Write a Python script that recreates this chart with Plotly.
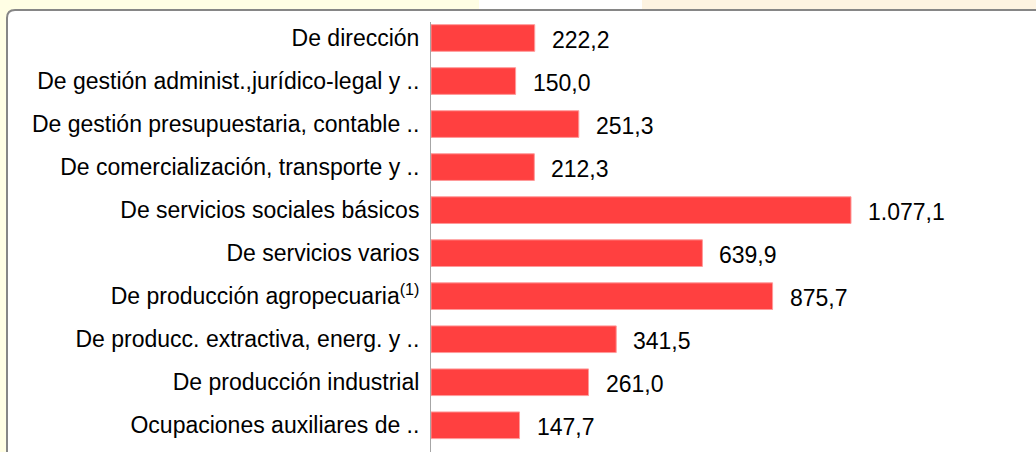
import plotly.graph_objects as go

categories = [
    "De dirección",
    "De gestión administ.,jurídico-legal y ..",
    "De gestión presupuestaria, contable ..",
    "De comercialización, transporte y ..",
    "De servicios sociales básicos",
    "De servicios varios",
    "De producción agropecuaria<sup>(1)</sup>",
    "De producc. extractiva, energ. y ..",
    "De producción industrial",
    "Ocupaciones auxiliares de ..",
]
# bar lengths as drawn in the picture (axis units)
bar_values = [266, 217, 379, 265, 1077.1, 696, 876, 475, 404, 227]
# printed value labels
label_values = [222.2, 150.0, 251.3, 212.3, 1077.1, 639.9, 875.7, 341.5, 261.0, 147.7]


def es_fmt(v):
    s = f"{v:,.1f}"
    return s.replace(",", "X").replace(".", ",").replace("X", ".")


W, H = 1036, 452
ML, MR, MT, MB = 431, 5, 22, 0
PW, PH = W - ML - MR, H - MT - MB


def px(x):
    return (x - ML) / PW


def py(y):
    return 1 - (y - MT) / PH


FONT = "Liberation Sans, Arial, sans-serif"
FS = 23

fig = go.Figure()
fig.add_trace(go.Bar(
    x=bar_values,
    y=categories,
    orientation="h",
    marker=dict(color="#FF4040", line=dict(color="#FF9A9A", width=1)),
    hoverinfo="skip",
))

annotations = []
for c, b, v in zip(categories, bar_values, label_values):
    annotations.append(dict(
        x=b, y=c, xref="x", yref="y", text=es_fmt(v), showarrow=False,
        xanchor="left", yanchor="middle", xshift=15, yshift=-2,
        font=dict(family=FONT, size=FS, color="#000000"),
    ))

shapes = [
    # yellow top-left background + left strip
    dict(type="rect", xref="paper", yref="paper", x0=px(0), x1=px(479), y0=py(0), y1=py(20),
         fillcolor="#FFFEE4", line=dict(width=0), layer="below"),
    dict(type="rect", xref="paper", yref="paper", x0=px(0), x1=px(10), y0=py(0), y1=py(460),
         fillcolor="#FFFEE4", line=dict(width=0), layer="below"),
    # peach top-right background
    dict(type="rect", xref="paper", yref="paper", x0=px(642), x1=px(1040), y0=py(0), y1=py(20),
         fillcolor="#FDF3E1", line=dict(width=0), layer="below"),
    # white rounded panel
    dict(type="path", xref="paper", yref="paper",
         path=(f"M {px(7)},{py(470)} L {px(7)},{py(18)} Q {px(7)},{py(10)} {px(15)},{py(10)} "
               f"L {px(1050)},{py(10)} L {px(1050)},{py(470)} Z"),
         fillcolor="#FFFFFF", line=dict(color="#868686", width=2), layer="below"),
]

fig.update_layout(
    width=W, height=H,
    margin=dict(l=ML, r=MR, t=MT, b=MB, pad=0),
    paper_bgcolor="#FFFFFF",
    plot_bgcolor="rgba(0,0,0,0)",
    showlegend=False,
    bargap=0.38,
    font=dict(family=FONT, size=FS, color="#000000"),
    xaxis=dict(range=[0, 1077.1 / 0.7], showgrid=False, zeroline=False,
               showticklabels=False, showline=False, fixedrange=True),
    yaxis=dict(range=[9.621, -0.372], showgrid=False, zeroline=False,
               showline=True, linecolor="#A6A6A6", linewidth=1,
               ticks="", ticklabelstandoff=6,
               tickfont=dict(family=FONT, size=FS, color="#000000"),
               fixedrange=True),
    annotations=annotations,
    shapes=shapes,
)

fig.write_html(
    "out.html",
    config={"displayModeBar": False},
    post_script="document.body.style.margin='0';document.body.style.padding='0';",
)
